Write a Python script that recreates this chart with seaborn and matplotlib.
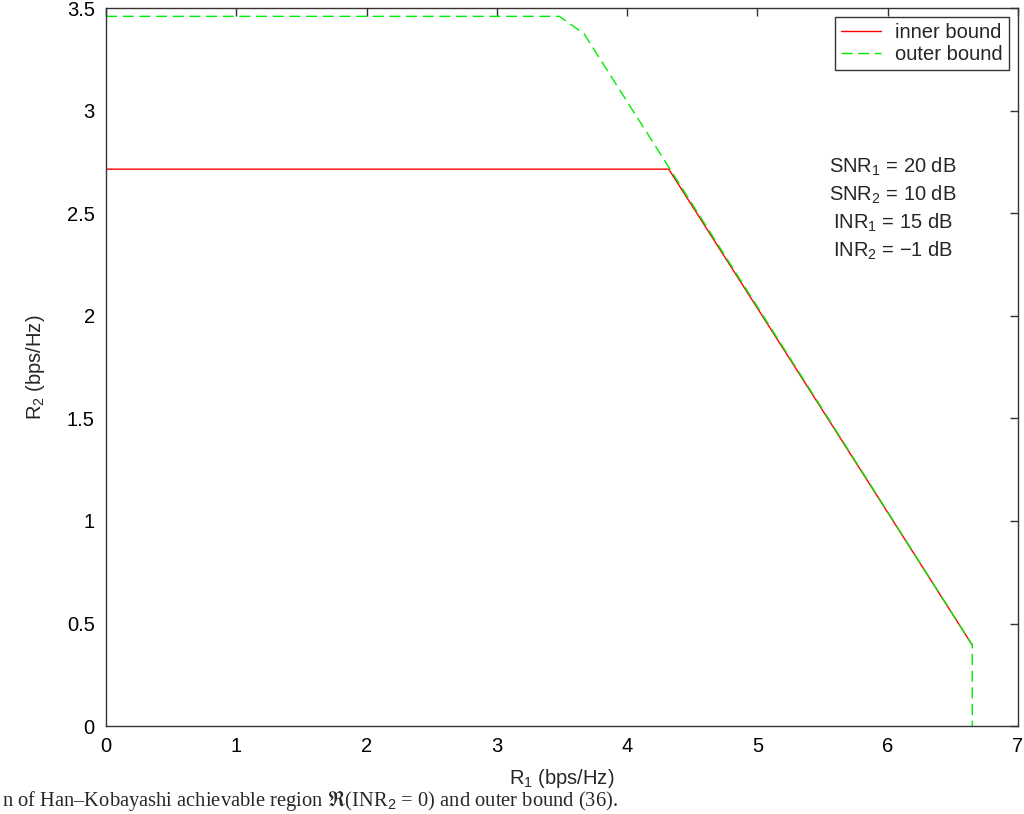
import matplotlib
matplotlib.use("Agg")
import matplotlib.pyplot as plt
import seaborn as sns
import pandas as pd

# Data
inner_r1 = [0.0, 4.32, 6.65]
inner_r2 = [2.715, 2.715, 0.395]
outer_r1 = [0.0, 3.48, 3.67, 6.65, 6.65]
outer_r2 = [3.46, 3.46, 3.375, 0.395, 0.0]

x_ticks = [0, 1, 2, 3, 4, 5, 6, 7]
y_ticks = [0, 0.5, 1, 1.5, 2, 2.5, 3, 3.5]
annotation = ["SNR$_1$ = 20 dB", "SNR$_2$ = 10 dB", "INR$_1$ = 15 dB", "INR$_2$ = \u22121 dB"]

sns.set_style("white")
plt.rcParams['font.family'] = ['Liberation Sans', 'DejaVu Sans']
plt.rcParams['mathtext.fontset'] = 'custom'
plt.rcParams['mathtext.rm'] = 'Liberation Sans'
plt.rcParams['mathtext.it'] = 'Liberation Sans'

FS = 14.5

fig = plt.figure(figsize=(10.24, 8.14), dpi=100)
ax = fig.add_axes([0.1035, 0.108, 0.8905, 0.882])

df_in = pd.DataFrame({"R1": inner_r1, "R2": inner_r2})
df_out = pd.DataFrame({"R1": outer_r1, "R2": outer_r2})

sns.lineplot(data=df_in, x="R1", y="R2", sort=False, estimator=None, ax=ax,
             color="#ff0000", linewidth=1.0, label="inner bound")
sns.lineplot(data=df_out, x="R1", y="R2", sort=False, estimator=None, ax=ax,
             color="#00ee00", linewidth=1.0, label="outer bound")
ax.lines[1].set_dashes([8, 4])

ax.set_xlim(0, 7)
ax.set_ylim(0, 3.5)
ax.set_xticks(x_ticks)
ax.set_xticklabels([str(v) for v in x_ticks])
ax.set_yticks(y_ticks)
ax.set_yticklabels(["0", "0.5", "1", "1.5", "2", "2.5", "3", "3.5"])
ax.tick_params(direction="in", length=6, width=1, colors="#333333", labelcolor="black",
               labelsize=FS, top=True, right=True, pad=8)
for s in ax.spines.values():
    s.set_visible(True)
    s.set_color("#333333")
    s.set_linewidth(1.0)

ax.set_xlabel("R$_1$ (bps/Hz)", fontsize=FS, labelpad=8)
ax.set_ylabel("R$_2$ (bps/Hz)", fontsize=FS, labelpad=14)

for i, t in enumerate(annotation):
    ax.text(6.04, 2.70 - i * 0.138, t, ha="center", va="baseline", fontsize=FS)

leg = ax.legend(loc="upper right", fontsize=FS, fancybox=False, framealpha=1,
                edgecolor="#333333", borderaxespad=0.45, handlelength=2.0,
                borderpad=0.3, labelspacing=0.15, handletextpad=0.7)
leg.get_frame().set_linewidth(1.0)
for h in leg.get_lines():
    h.set_linewidth(1.0)
leg.get_lines()[1].set_dashes([8, 4])

fig.text(2 / 1024, 1 / 814,
         "n of Han\u2013Kobayashi achievable region $\\mathfrak{R}$(INR$_2$ = 0) and outer bound (36).",
         ha="left", va="bottom", fontsize=14.8, family=["Liberation Serif", "DejaVu Serif"])

fig.savefig("out.png", dpi=100)
